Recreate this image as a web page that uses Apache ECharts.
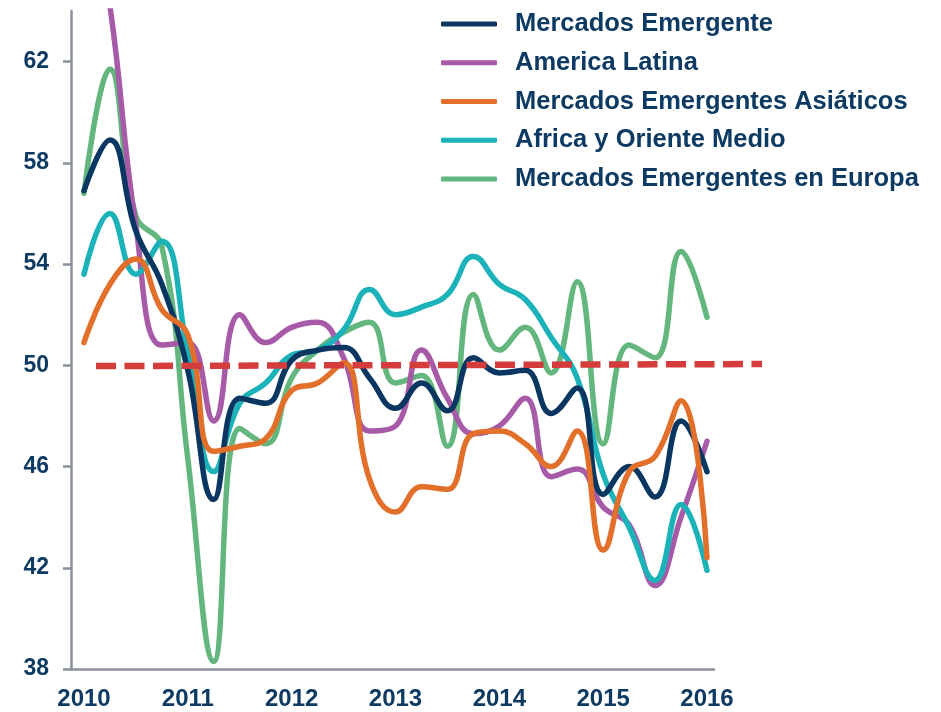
<!DOCTYPE html>
<html>
<head>
<meta charset="utf-8">
<script src="https://cdn.jsdelivr.net/npm/echarts@6/dist/echarts.min.js"></script>
<style>html,body{margin:0;padding:0;background:#fff;}#c{width:941px;height:712px;}</style>
</head>
<body>
<div id="c"></div>
<script>
// Quarterly periods
const periods = [2010.00, 2010.25, 2010.50, 2010.75, 2011.00, 2011.25, 2011.50, 2011.75,
                 2012.00, 2012.25, 2012.50, 2012.75, 2013.00, 2013.25, 2013.50, 2013.75,
                 2014.00, 2014.25, 2014.50, 2014.75, 2015.00, 2015.25, 2015.50, 2015.75, 2016.00];
const yearLabels = [2010, 2011, 2012, 2013, 2014, 2015, 2016];
const yTicks = [38, 42, 46, 50, 54, 58, 62];

const mercadosEmergente = [56.9, 58.9, 55.3, 53.2, 49.8, 44.7, 48.7, 48.5, 50.2, 50.6, 50.7, 49.5, 48.3,
                           49.3, 48.2, 50.3, 49.7, 49.8, 48.1, 49.1, 44.9, 46.0, 44.8, 47.8, 45.8];
const americaLatina = [70.0, 64.2, 55.5, 50.8, 50.9, 47.8, 52.0, 50.9, 51.5, 51.7, 50.3, 47.4, 47.6,
                       50.6, 48.7, 47.3, 47.6, 48.7, 45.6, 45.9, 44.4, 43.7, 41.3, 44.0, 47.0];
const asiaticos = [50.9, 53.2, 54.2, 52.2, 51.2, 46.6, 46.8, 47.1, 49.0, 49.3, 50.1, 45.5, 44.2,
                   45.2, 45.1, 47.3, 47.4, 46.9, 46.0, 47.4, 42.7, 45.8, 46.4, 48.6, 42.4];
const africaOriente = [53.6, 56.0, 53.6, 54.9, 50.5, 45.8, 48.5, 49.3, 50.4, 50.6, 51.4, 53.0, 52.0,
                       52.3, 52.8, 54.3, 53.2, 52.6, 51.1, 49.5, 45.7, 43.6, 41.5, 44.5, 41.9];
const europa = [56.8, 61.7, 55.9, 54.7, 46.3, 38.3, 47.5, 46.9, 49.5, 50.6, 51.3, 51.7, 49.3,
                49.6, 46.8, 52.8, 50.6, 51.5, 49.7, 53.3, 46.9, 50.8, 50.3, 54.5, 51.9];
const refX = [0, 1];
const refY = [49.97, 50.05];

const seriesNames = ['Mercados Emergente', 'America Latina', 'Mercados Emergentes Asiáticos',
                     'Africa y Oriente Medio', 'Mercados Emergentes en Europa'];
const seriesData = [mercadosEmergente, americaLatina, asiaticos, africaOriente, europa];
const colors = ['#0a3761', '#a65aa8', '#e2702b', '#1bb3b9', '#63b67d'];
const zs = [6, 3, 7, 5, 2];

const txt = '#0c3a63';
const font = "'Liberation Sans', Arial, sans-serif";

const chart = echarts.init(document.getElementById('c'));
const lineSeries = seriesNames.map((n, k) => ({
  name: n,
  type: 'line',
  xAxisIndex: 0, yAxisIndex: 0,
  data: periods.map((p, i) => [p, seriesData[k][i]]),
  smooth: 0.45,
  showSymbol: false,
  symbol: 'none',
  z: zs[k],
  lineStyle: { color: colors[k], width: 5.5, cap: 'round', join: 'round' },
  itemStyle: { color: colors[k] },
  emphasis: { disabled: true }
}));

chart.setOption({
  animation: false,
  backgroundColor: '#fff',
  grid: [
    { left: 71, right: 227, top: 11, bottom: 43, containLabel: false },
    { left: 96, right: 179, top: 11, bottom: 43, containLabel: false }
  ],
  legend: {
    orient: 'vertical',
    left: 441, top: 10,
    padding: 0,
    itemWidth: 56, itemHeight: 5,
    itemGap: 10.75,
    icon: 'roundRect',
    data: seriesNames,
    textStyle: { color: txt, fontSize: 25.5, fontWeight: 'bold', fontFamily: font, lineHeight: 28, padding: [0, 0, 0, 13] }
  },
  xAxis: [
    {
      type: 'value', gridIndex: 0, min: 2009.875, max: 2016.0675,
      axisLine: { show: true, onZero: false, lineStyle: { color: '#8a919c', width: 2.5 } },
      axisTick: { show: false },
      splitLine: { show: false },
      axisLabel: { customValues: yearLabels, color: txt, fontSize: 24, fontWeight: 'bold', fontFamily: font, margin: 18, formatter: v => String(v) }
    },
    { type: 'value', gridIndex: 1, min: 0, max: 1, show: false }
  ],
  yAxis: [
    {
      type: 'value', gridIndex: 0, min: 38, max: 64,
      axisLine: { show: true, lineStyle: { color: '#8a919c', width: 2.5 } },
      axisTick: { show: true, customValues: yTicks, length: 8, lineStyle: { color: '#8a919c', width: 2.5 } },
      splitLine: { show: false },
      axisLabel: { customValues: yTicks, color: txt, fontSize: 23, fontWeight: 'bold', fontFamily: font, margin: 22 }
    },
    { type: 'value', gridIndex: 1, min: 38, max: 64, show: false }
  ],
  series: lineSeries.concat([{
    name: 'ref',
    type: 'line',
    xAxisIndex: 1, yAxisIndex: 1,
    data: refX.map((x, i) => [x, refY[i]]),
    showSymbol: false, symbol: 'none',
    z: 10,
    clip: false,
    lineStyle: { color: '#d53c3c', width: 6.5, type: [20, 8.5], cap: 'butt' },
    emphasis: { disabled: true }
  }])
});
</script>
</body>
</html>
